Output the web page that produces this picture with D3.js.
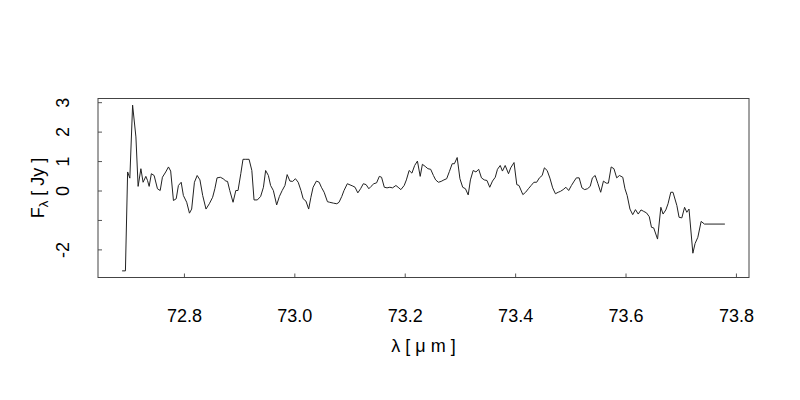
<!DOCTYPE html>
<html>
<head>
<meta charset="utf-8">
<script src="https://cdn.jsdelivr.net/npm/d3@7/dist/d3.min.js"></script>
<style>
	body { margin: 0; background: #fff; }
	svg text { font-family: "Liberation Sans", Arial, sans-serif; fill: #000; }
</style>
</head>
<body>
<div id="chart"></div>
<script>
	// spectrum: wavelength in micron, flux density in Jy
	var wavelength = [
		72.688, 72.694, 72.698, 72.702, 72.707, 72.713, 72.717, 72.722, 72.726, 72.731,
		72.734, 72.737, 72.741, 72.746, 72.752, 72.757, 72.761, 72.767, 72.772, 72.776,
		72.781, 72.786, 72.790, 72.795, 72.799, 72.805, 72.810, 72.814, 72.819, 72.824,
		72.829, 72.834, 72.840, 72.846, 72.852, 72.856, 72.860, 72.866, 72.871, 72.876,
		72.879, 72.883, 72.889, 72.894, 72.898, 72.903, 72.907, 72.912, 72.918, 72.923,
		72.927, 72.933, 72.939, 72.944, 72.948, 72.953, 72.957, 72.962, 72.968, 72.973,
		72.978, 72.983, 72.987, 72.992, 72.997, 73.002, 73.007, 73.012, 73.016, 73.021,
		73.026, 73.030, 73.034, 73.040, 73.045, 73.049, 73.054, 73.060, 73.064, 73.071,
		73.077, 73.081, 73.086, 73.090, 73.096, 73.101, 73.106, 73.110, 73.115, 73.120,
		73.125, 73.130, 73.135, 73.139, 73.144, 73.149, 73.154, 73.158, 73.163, 73.168,
		73.173, 73.178, 73.184, 73.188, 73.193, 73.199, 73.203, 73.208, 73.213, 73.218,
		73.223, 73.228, 73.232, 73.237, 73.242, 73.247, 73.252, 73.256, 73.261, 73.266,
		73.271, 73.276, 73.281, 73.286, 73.290, 73.295, 73.300, 73.305, 73.310, 73.315,
		73.319, 73.324, 73.329, 73.334, 73.339, 73.344, 73.349, 73.354, 73.359, 73.364,
		73.368, 73.373, 73.377, 73.382, 73.388, 73.392, 73.398, 73.403, 73.407, 73.414,
		73.419, 73.424, 73.429, 73.434, 73.439, 73.444, 73.449, 73.453, 73.458, 73.463,
		73.468, 73.473, 73.478, 73.482, 73.487, 73.492, 73.497, 73.502, 73.507, 73.511,
		73.516, 73.521, 73.526, 73.531, 73.536, 73.540, 73.545, 73.550, 73.555, 73.560,
		73.565, 73.569, 73.574, 73.579, 73.584, 73.589, 73.595, 73.599, 73.603, 73.608,
		73.613, 73.618, 73.623, 73.628, 73.633, 73.638, 73.643, 73.647, 73.651, 73.658,
		73.664, 73.668, 73.673, 73.677, 73.682, 73.686, 73.693, 73.697, 73.702, 73.707,
		73.711, 73.715, 73.722, 73.726, 73.731, 73.737, 73.743, 73.780
	]
	var flux = [
		-2.73, -2.73, 0.63, 0.42, 2.90, 1.82, 0.14, 0.74, 0.28, 0.48,
		0.34, 0.14, 0.57, 0.51, 0.06, 0.00, 0.45, 0.63, 0.80, 0.66,
		-0.34, -0.28, 0.17, 0.28, -0.17, -0.40, -0.77, -0.63, 0.28, 0.51,
		0.36, -0.17, -0.63, -0.45, -0.23, 0.06, 0.43, 0.45, 0.40, 0.32,
		0.31, 0.00, -0.40, 0.00, 0.00, 0.57, 1.06, 1.06, 1.06, 0.68,
		-0.32, -0.32, -0.20, 0.11, 0.68, 0.51, 0.17, 0.00, -0.49, -0.20,
		0.00, 0.17, 0.54, 0.32, 0.31, 0.40, 0.28, 0.00, -0.28, -0.36,
		-0.63, -0.23, 0.11, 0.32, 0.28, 0.11, -0.06, -0.38, -0.40, -0.43,
		-0.45, -0.40, -0.20, 0.00, 0.23, 0.19, 0.15, 0.11, -0.08, 0.06,
		0.23, 0.20, 0.06, 0.14, 0.23, 0.26, 0.48, 0.45, 0.11, 0.09,
		0.11, 0.09, 0.17, 0.11, 0.03, 0.17, 0.36, 0.68, 0.59, 0.85,
		1.00, 0.48, 0.89, 0.82, 0.74, 0.72, 0.51, 0.36, 0.28, 0.31,
		0.36, 0.40, 0.65, 0.91, 0.91, 1.12, 0.40, 0.11, 0.06, -0.15,
		0.36, 0.68, 0.63, 0.72, 0.43, 0.36, 0.34, 0.11, 0.32, 0.45,
		0.72, 0.85, 0.66, 0.85, 0.57, 0.77, 0.95, 0.20, 0.17, -0.14,
		-0.06, 0.06, 0.17, 0.28, 0.28, 0.43, 0.51, 0.77, 0.68, 0.42,
		0.09, -0.11, -0.06, -0.03, 0.03, 0.11, 0.00, 0.17, 0.32, 0.43,
		0.43, 0.09, 0.03, 0.06, 0.14, 0.43, 0.51, 0.23, -0.06, 0.32,
		0.25, 0.25, 0.80, 0.74, 0.43, 0.51, 0.45, 0.06, -0.17, -0.63,
		-0.82, -0.65, -0.80, -0.66, -0.71, -0.76, -0.89, -1.25, -1.27, -1.65,
		-0.57, -0.80, -0.66, -0.45, -0.06, -0.06, -0.51, -0.91, -0.93, -0.57,
		-0.74, -0.63, -2.13, -1.80, -1.59, -1.05, -1.14, -1.14
	]
	var xTicks = [72.8, 73.0, 73.2, 73.4, 73.6, 73.8]
	var yTicks = [-2, -1, 0, 1, 2, 3]
	var yTickLabels = ['-2', '', '0', '1', '2', '3']   // -1 gets dropped in the original

	var width = 800, height = 400
	var box = {left: 98, right: 749, top: 98.5, bottom: 277.5}

	// R style: data range padded by 4% each side
	function pad(ext){
		var r = ext[1] - ext[0]
		return [ext[0] - 0.04 * r, ext[1] + 0.04 * r]
	}

	var data = wavelength.map((w, i) => ({w: w, f: flux[i]}))

	var x = d3.scaleLinear()
		.domain(pad(d3.extent(wavelength)))
		.range([box.left, box.right])

	var y = d3.scaleLinear()
		.domain(pad(d3.extent(flux)))
		.range([box.bottom, box.top])

	var svg = d3.select('#chart').append('svg')
		.attr('width', width)
		.attr('height', height)

	svg.append('rect')
		.attr('width', width).attr('height', height)
		.attr('fill', '#fff')

	var line = d3.line()
		.x(d => x(d.w))
		.y(d => y(d.f))

	svg.append('path')
		.datum(data)
		.attr('d', line)
		.attr('fill', 'none')
		.attr('stroke', '#222')
		.attr('stroke-width', 1)
		.attr('stroke-linejoin', 'round')

	// x axis, ticks point into the box
	var xAxis = svg.append('g')
		.attr('transform', `translate(0,${box.bottom})`)
		.call(d3.axisBottom(x)
			.tickValues(xTicks)
			.tickFormat(d3.format('.1f'))
			.tickSizeInner(-4)
			.tickSizeOuter(0))
	xAxis.select('.domain').remove()
	xAxis.selectAll('line').attr('stroke', '#555')
	xAxis.selectAll('text')
		.attr('y', 44.5)
		.attr('dy', 0)
		.attr('font-size', '18px')

	// y axis, labels turned parallel to the axis
	var yAxis = svg.append('g')
		.attr('transform', `translate(${box.left},0)`)
		.call(d3.axisLeft(y)
			.tickValues(yTicks)
			.tickFormat((d, i) => yTickLabels[i])
			.tickSizeInner(-4)
			.tickSizeOuter(0))
	yAxis.select('.domain').remove()
	yAxis.selectAll('line').attr('stroke', '#555')
	yAxis.selectAll('text')
		.attr('x', 0)
		.attr('dy', 0)
		.attr('text-anchor', 'middle')
		.attr('transform', 'translate(-29.5,0) rotate(-90)')
		.attr('font-size', '18px')

	svg.append('rect')
		.attr('x', box.left).attr('y', box.top)
		.attr('width', box.right - box.left)
		.attr('height', box.bottom - box.top)
		.attr('fill', 'none')
		.attr('stroke', '#444')
		.attr('stroke-width', 1)

	// axis titles
	svg.append('text')
		.attr('x', (box.left + box.right) / 2)
		.attr('y', 352)
		.attr('text-anchor', 'middle')
		.attr('font-size', '18px')
		.text('λ [ μ m ]')

	var yl = svg.append('text')
		.attr('transform', `translate(44,${(box.top + box.bottom) / 2}) rotate(-90)`)
		.attr('text-anchor', 'middle')
		.attr('font-size', '18px')
	yl.append('tspan').text('F')
	yl.append('tspan').attr('font-size', '13px').attr('dy', 4).text('λ')
	yl.append('tspan').attr('dy', -4).text(' [ Jy ]')
</script>
</body>
</html>
